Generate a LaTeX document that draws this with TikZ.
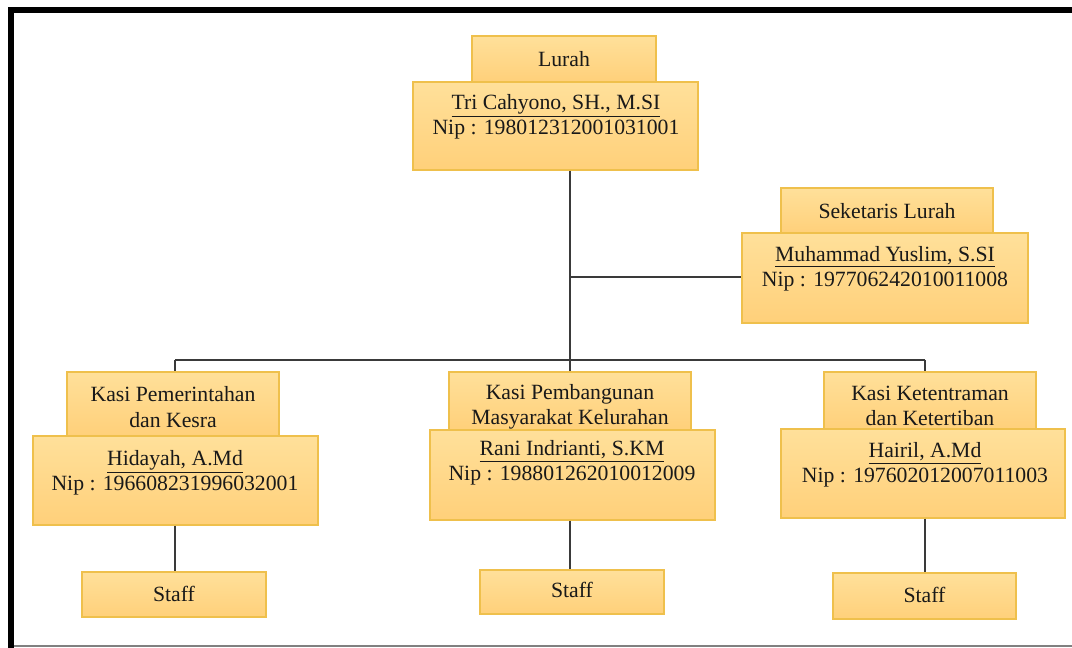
\documentclass[tikz,border=0pt]{standalone}
\usepackage{fontspec}
\setmainfont{Liberation Serif}
\definecolor{boxtop}{HTML}{FFE09A}
\definecolor{boxbot}{HTML}{FFD07A}
\definecolor{boxline}{HTML}{EFC04C}
\definecolor{conn}{HTML}{3A3A3A}
\begin{document}
\begin{tikzpicture}[x=0.75pt,y=-0.75pt,
  orgbox/.style={draw=boxline,line width=0.9pt,top color=boxtop,bottom color=boxbot,inner sep=0pt,rectangle},
  orgtxt/.style={font=\fontsize{16.3}{19}\selectfont,align=center,inner sep=0pt,text=black!90},
  connector/.style={draw=conn,line width=1.1pt}]
\useasboundingbox (0,0) rectangle (1072,648);
\fill[white] (0,0) rectangle (1072,648);
% frame
\fill[black] (8,7) rectangle (14,648);
\fill[black] (8,7) rectangle (1072,13);
\draw[gray,line width=1.5pt] (14,646.5) -- (1072,646.5);
% junctions
\coordinate (jsek) at (570,277);
\coordinate (jbus) at (570,360);
\coordinate (busL) at (175,360);
\coordinate (busR) at (925,360);
% boxes
\node[orgbox,minimum width=138pt,minimum height=34.5pt] (lurahT) at (564,59) {};
\node[orgbox,minimum width=213.75pt,minimum height=66pt] (lurahM) at (555.5,126) {};
\node[orgbox,minimum width=159pt,minimum height=33.75pt] (sekT) at (887,210.5) {};
\node[orgbox,minimum width=214.5pt,minimum height=67.5pt] (sekM) at (885,278) {};
\node[orgbox,minimum width=159pt,minimum height=48pt] (pemT) at (173,404) {};
\node[orgbox,minimum width=213.75pt,minimum height=66.75pt] (pemM) at (175.5,480.5) {};
\node[orgbox,minimum width=181.5pt,minimum height=43.5pt] (bangT) at (570,401) {};
\node[orgbox,minimum width=213.75pt,minimum height=67.5pt] (bangM) at (572.5,475) {};
\node[orgbox,minimum width=159pt,minimum height=43.5pt] (tibT) at (930,401) {};
\node[orgbox,minimum width=213pt,minimum height=66.75pt] (tibM) at (923,473.5) {};
\node[orgbox,minimum width=138pt,minimum height=33.75pt] (staffL) at (174,594.5) {};
\node[orgbox,minimum width=138pt,minimum height=33pt] (staffM) at (572,592) {};
\node[orgbox,minimum width=137.25pt,minimum height=34.5pt] (staffR) at (924.5,596) {};
% connector lines
\draw[connector] (lurahM.south -| jbus) -- (jbus);
\draw[connector] (jsek) -- (sekM.west |- jsek);
\draw[connector] (busL) -- (busR);
\draw[connector] (busL) -- (busL |- pemT.north);
\draw[connector] (jbus) -- (jbus |- bangT.north);
\draw[connector] (busR) -- (busR |- tibT.north);
\draw[connector] (pemM.south -| busL) -- (busL |- staffL.north);
\draw[connector] (bangM.south -| jbus) -- (jbus |- staffM.north);
\draw[connector] (tibM.south -| busR) -- (busR |- staffR.north);
% texts
\node[orgtxt] (tLurah) at (564,59) {Lurah};
\node[orgtxt] (tLurahN) at (556,117) {\underline{Tri Cahyono, SH., M.SI}\\Nip : 198012312001031001};
\node[orgtxt] (tSek) at (887,211) {Seketaris Lurah};
\node[orgtxt] (tSekN) at (885,269) {\underline{Muhammad Yuslim, S.SI}\\Nip : 197706242010011008};
\node[orgtxt] (tPem) at (173,407) {Kasi Pemerintahan\\dan Kesra};
\node[orgtxt] (tPemN) at (175,473) {\underline{Hidayah, A.Md}\\Nip : 196608231996032001};
\node[orgtxt] (tBang) at (570,407) {Kasi Pembangunan\\Masyarakat Kelurahan};
\node[orgtxt] (tBangN) at (572,463) {\underline{Rani Indrianti, S.KM}\\Nip : 198801262010012009};
\node[orgtxt] (tTib) at (930,406) {Kasi Ketentraman\\dan Ketertiban};
\node[orgtxt] (tTibN) at (925,465) {\underline{Hairil, A.Md}\\Nip : 197602012007011003};
\node[orgtxt] (sL) at (174,594) {Staff};
\node[orgtxt] (sM) at (572,590) {Staff};
\node[orgtxt] (sR) at (924.5,595) {Staff};
\end{tikzpicture}
\end{document}
